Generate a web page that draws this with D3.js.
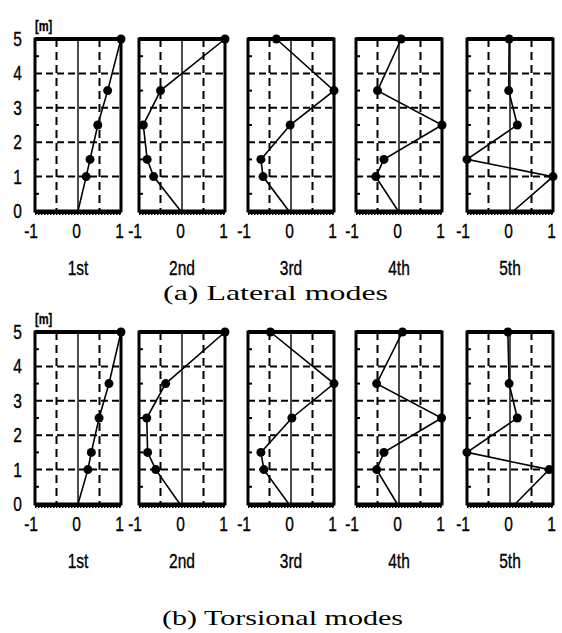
<!DOCTYPE html>
<html>
<head>
<meta charset="utf-8">
<script src="https://cdn.jsdelivr.net/npm/d3@7"></script>
<style>
  html, body { margin: 0; padding: 0; background: #fff; }
  svg { display: block; }
</style>
</head>
<body>
<svg id="chart" width="562" height="633"></svg>
<script>
// ---------------- data ----------------
const heights = [0, 1, 1.5, 2.5, 3.5, 5];          // measurement heights [m]
const modeLabels = ["1st", "2nd", "3rd", "4th", "5th"];
const yTicks = [0, 1, 2, 3, 4, 5];
const xTicks = [-1, 0, 1];
const yUnit = "[m]";
const rowTitles = ["(a) Lateral modes", "(b) Torsional modes"];

// Lateral mode shapes (value at each height)
const lateralMode1 = [0, 0.19, 0.28, 0.46, 0.69, 1];
const lateralMode2 = [-0.03, -0.66, -0.81, -0.9, -0.5, 1];
const lateralMode3 = [-0.05, -0.65, -0.7, -0.02, 1, -0.34];
const lateralMode4 = [-0.02, -0.54, -0.35, 1, -0.5, 0.05];
const lateralMode5 = [0.08, 1, -1, 0.17, -0.03, -0.02];

// Torsional mode shapes
const torsionalMode1 = [0, 0.23, 0.31, 0.49, 0.72, 1];
const torsionalMode2 = [-0.05, -0.61, -0.8, -0.82, -0.38, 1];
const torsionalMode3 = [-0.05, -0.63, -0.7, 0.02, 1, -0.48];
const torsionalMode4 = [-0.04, -0.52, -0.35, 0.99, -0.52, 0.08];
const torsionalMode5 = [0.12, 0.91, -1, 0.17, -0.02, -0.05];

const lateralModes = [lateralMode1, lateralMode2, lateralMode3, lateralMode4, lateralMode5];
const torsionalModes = [torsionalMode1, torsionalMode2, torsionalMode3, torsionalMode4, torsionalMode5];

// ---------------- layout ----------------
const svg = d3.select("#chart");
const SANS = "'Liberation Sans', Arial, sans-serif";
const SERIF = "'Liberation Serif', 'Times New Roman', serif";
const NARROW = 0.74;
const panelLefts = [35, 139, 248, 356, 467];
const panelW = 86;
const rows = [
  { top: 39, bottom: 211, modes: lateralModes, title: rowTitles[0], titleY: 300, titleX0: 163, titleX1: 388 },
  { top: 332, bottom: 504, modes: torsionalModes, title: rowTitles[1], titleY: 625, titleX0: 162, titleX1: 403 }
];

function narrowText(sel, x, y, str, size, anchor) {
  return sel.append("text")
    .attr("transform", `translate(${x},${y}) scale(${NARROW},1)`)
    .attr("font-family", SANS).attr("font-size", size)
    .attr("text-anchor", anchor || "start")
    .attr("fill", "#000").attr("stroke", "#000").attr("stroke-width", 0.35)
    .text(str);
}

rows.forEach((row) => {
  const y = d3.scaleLinear().domain([0, 5]).range([row.bottom, row.top]);

  // y axis labels
  const yg = svg.append("g");
  yTicks.forEach(d => narrowText(yg, 22, y(d) + 7, String(d), 21, "end"));
  narrowText(yg, 35, row.top - 8, yUnit, 15, "start").attr("font-weight", "bold");

  row.modes.forEach((vals, i) => {
    const x = d3.scaleLinear().domain([-1, 1]).range([panelLefts[i], panelLefts[i] + panelW]);
    const g = svg.append("g");

    // dashed grid
    g.selectAll("line.hg").data([1, 2, 3, 4]).join("line")
      .attr("x1", x(-1)).attr("x2", x(1)).attr("y1", d => y(d)).attr("y2", d => y(d))
      .attr("stroke", "#000").attr("stroke-width", 2).attr("stroke-dasharray", "7,4");
    g.selectAll("line.vg").data([-0.5, 0.5]).join("line")
      .attr("x1", d => x(d)).attr("x2", d => x(d)).attr("y1", y(5)).attr("y2", y(0))
      .attr("stroke", "#000").attr("stroke-width", 2).attr("stroke-dasharray", "8,5");
    // zero line
    g.append("line").attr("x1", x(0)).attr("x2", x(0)).attr("y1", y(5)).attr("y2", y(0))
      .attr("stroke", "#000").attr("stroke-width", 1.4);

    // left border ticks at half metres
    g.selectAll("line.lt").data([0.5, 1.5, 2.5, 3.5, 4.5]).join("line")
      .attr("x1", x(-1)).attr("x2", x(-1) + 4).attr("y1", d => y(d)).attr("y2", d => y(d))
      .attr("stroke", "#000").attr("stroke-width", 2);

    // frame
    g.append("rect").attr("x", x(-1)).attr("y", y(5)).attr("width", x(1) - x(-1)).attr("height", y(0) - y(5))
      .attr("fill", "none").attr("stroke", "#000").attr("stroke-width", 3);
    g.append("line").attr("x1", x(-1)).attr("x2", x(1)).attr("y1", y(5)).attr("y2", y(5))
      .attr("stroke", "#000").attr("stroke-width", 4);
    g.append("line").attr("x1", x(-1)).attr("x2", x(1)).attr("y1", y(0) + 1).attr("y2", y(0) + 1)
      .attr("stroke", "#000").attr("stroke-width", 4);
    g.append("line").attr("x1", x(-1)).attr("x2", x(1)).attr("y1", y(0) + 3.5).attr("y2", y(0) + 3.5)
      .attr("stroke", "#000").attr("stroke-width", 1.2).attr("stroke-dasharray", "1.5,1.5");

    // mode shape line
    const pts = heights.map((h, k) => ({ h, v: vals[k] }));
    const line = d3.line().x(d => x(d.v)).y(d => y(d.h));
    g.append("path").datum(pts).attr("d", line)
      .attr("fill", "none").attr("stroke", "#000").attr("stroke-width", 1.6);
    g.selectAll("circle").data(pts.filter(d => d.h > 0)).join("circle")
      .attr("cx", d => x(d.v)).attr("cy", d => y(d.h)).attr("r", 4.5).attr("fill", "#000");

    // x tick labels
    const xg = svg.append("g");
    xTicks.forEach(d => narrowText(xg, x(d) + 3, row.bottom + 27, d < 0 ? "-" + Math.abs(d) : String(d), 21, "end"));
    // mode label
    narrowText(xg, x(0), row.bottom + 64, modeLabels[i], 21, "middle");
  });

  // row title
  svg.append("text")
    .attr("x", row.titleX0).attr("y", row.titleY)
    .attr("font-family", SERIF).attr("font-size", 22).attr("fill", "#000")
    .attr("textLength", row.titleX1 - row.titleX0).attr("lengthAdjust", "spacingAndGlyphs")
    .text(row.title);
});
</script>
</body>
</html>
